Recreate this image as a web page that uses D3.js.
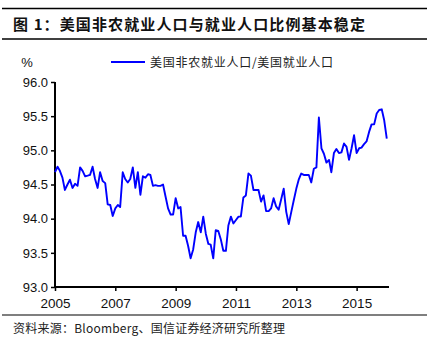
<!DOCTYPE html>
<html><head><meta charset="utf-8">
<script src="https://cdn.jsdelivr.net/npm/d3@7"></script>
<style>
html,body{margin:0;padding:0;background:#fff;}
svg{display:block;font-family:"Liberation Sans",Arial,sans-serif;}
</style></head>
<body>
<svg id="c" width="427" height="341"></svg>
<script>
const title = "图 1：美国非农就业人口与就业人口比例基本稳定";
const seriesName = "美国非农就业人口/美国就业人口";
const sourceText = "资料来源：Bloomberg、国信证券经济研究所整理";
const unitLabel = "%";
const startYear = 2005, startMonth = 0; // Jan 2005, monthly
const yTicks = [93.0, 93.5, 94.0, 94.5, 95.0, 95.5, 96.0];
const xTickYears = [2005, 2007, 2009, 2011, 2013, 2015];
const ratio = [
94.68,94.76,94.70,94.60,94.42,94.50,94.57,94.45,94.51,94.48,94.75,94.70,
94.62,94.63,94.64,94.76,94.58,94.45,94.68,94.55,94.52,94.21,94.20,94.04,
94.15,94.20,94.17,94.68,94.58,94.53,94.58,94.75,94.45,94.68,94.35,94.62,
94.60,94.65,94.64,94.48,94.49,94.48,94.48,94.50,94.32,94.15,94.06,94.06,
94.30,94.15,94.17,93.75,93.75,93.60,93.42,93.55,93.80,93.95,93.80,94.03,
93.78,93.63,93.62,93.42,93.83,93.82,93.70,93.53,93.53,93.90,94.03,93.93,
93.98,94.03,94.03,94.31,94.34,94.66,94.63,94.42,94.42,94.42,94.25,94.34,
94.11,94.11,94.15,94.30,94.18,94.13,94.28,94.44,94.10,93.92,94.10,94.27,
94.44,94.58,94.66,94.64,94.64,94.64,94.53,94.73,94.75,95.48,95.03,94.95,
94.82,94.86,94.68,94.96,95.02,94.96,94.97,95.10,95.05,94.86,95.03,95.22,
94.96,95.03,95.04,95.09,95.13,95.27,95.38,95.38,95.54,95.59,95.60,95.44,
95.17
];

const data = ratio.map((v,i)=>({date:new Date(startYear, startMonth+i, 1), v}));
const svg = d3.select("#c");
const cjk = '"Noto Sans CJK SC","Noto Sans",sans-serif';

// rules
[[8.5,1.6],[39,1.6],[315,1.2]].forEach(([y,w])=>{
  svg.append("line").attr("x1",2).attr("x2",427).attr("y1",y).attr("y2",y)
    .attr("stroke","#000").attr("stroke-width",w);
});

svg.append("text").attr("x",13).attr("y",29.5)
  .attr("font-family",cjk).attr("font-weight","bold").attr("font-size",15)
  .attr("textLength",352).attr("lengthAdjust","spacing")
  .attr("fill","#111").text(title);

const x = d3.scaleTime().domain([new Date(2005,0,1), new Date(2016,0,28)]).range([55,389]);
const y = d3.scaleLinear().domain([93,96]).range([287,82]);

// y axis
const ya = svg.append("g").attr("transform","translate(55,0)")
  .call(d3.axisLeft(y).tickValues(yTicks).tickFormat(d3.format(".1f")).tickSize(4).tickPadding(3));
ya.select(".domain").attr("stroke","#000").attr("stroke-width",2).attr("d","M0,82V288");
ya.selectAll(".tick line").attr("stroke","#000").attr("stroke-width",1.5);
ya.selectAll(".tick text").attr("font-size",13).attr("fill","#111").attr("font-family",'"Liberation Sans",Arial,sans-serif');

// x axis
const xa = svg.append("g").attr("transform","translate(0,287)")
  .call(d3.axisBottom(x).tickValues(xTickYears.map(yr=>new Date(yr,0,1))).tickFormat(d3.timeFormat("%Y")).tickSize(4).tickPadding(7));
xa.select(".domain").attr("stroke","#000").attr("stroke-width",2).attr("d","M54,0H389");
xa.selectAll(".tick line").attr("stroke","#000").attr("stroke-width",1.5);
xa.selectAll(".tick text").attr("font-size",13.5).attr("fill","#111").attr("font-family",'"Liberation Sans",Arial,sans-serif');

// line
svg.append("path").datum(data)
  .attr("fill","none").attr("stroke","#0000FF").attr("stroke-width",1.9)
  .attr("stroke-linejoin","round")
  .attr("d", d3.line().x(d=>x(d.date)).y(d=>y(d.v)));

// unit label
svg.append("text").attr("x",27).attr("y",66.5).attr("text-anchor","middle")
  .attr("font-size",13).attr("fill","#111").text(unitLabel);

// legend
svg.append("line").attr("x1",111).attr("x2",145).attr("y1",62).attr("y2",62)
  .attr("stroke","#0000FF").attr("stroke-width",2);
svg.append("text").attr("x",150).attr("y",66.5)
  .attr("font-family",cjk).attr("font-size",12)
  .attr("textLength",183).attr("lengthAdjust","spacing")
  .attr("fill","#222").text(seriesName);

// source
svg.append("text").attr("x",13).attr("y",332.5)
  .attr("font-family",cjk).attr("font-size",12)
  .attr("textLength",272).attr("lengthAdjust","spacing")
  .attr("fill","#222").text(sourceText);
</script>
</body></html>
